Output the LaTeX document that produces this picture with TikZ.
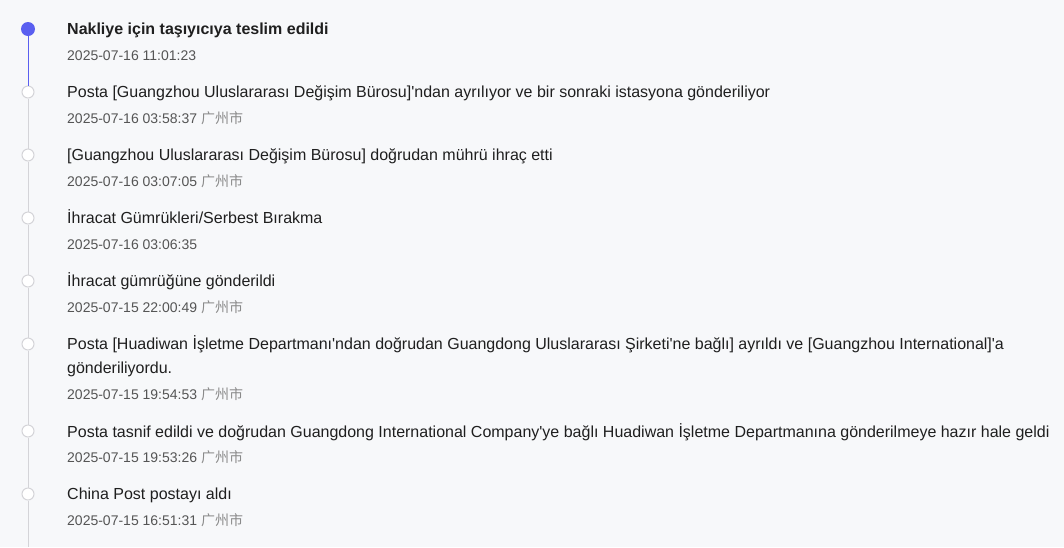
\documentclass[tikz,border=0pt]{standalone}
\usepackage{fontspec}
\setmainfont{Liberation Sans}[Ligatures=TeXOff]
\newfontfamily\cjk{Noto Sans CJK SC}
\definecolor{bgcol}{HTML}{F7F8FA}
\definecolor{linecol}{HTML}{D4D4D8}
\definecolor{activecol}{HTML}{5A5FF0}
\definecolor{titlecol}{HTML}{1F1F1F}
\definecolor{datecol}{HTML}{555555}
\definecolor{citycol}{HTML}{8A8A8A}
\tikzset{
  evtitle/.style={anchor=base west, inner sep=0pt, text=titlecol, font=\fontsize{16}{24}\selectfont},
  evdate/.style={anchor=base west, inner sep=0pt, text=datecol, font=\fontsize{14}{16}\selectfont},
  dotdone/.style={circle, fill=white, draw=linecol, line width=1pt, minimum size=12pt, inner sep=0pt},
  dotnow/.style={circle, fill=activecol, minimum size=14pt, inner sep=0pt}
}
\newcommand{\city}{ {\color{citycol}\cjk 广州市}}
\begin{document}
\begin{tikzpicture}[x=1pt,y=-1pt]
    \fill[bgcol] (0,0) rectangle (1064,547);
    \useasboundingbox (0,0) rectangle (1064,547);
    % dots
    \node[dotnow] (d1) at (28,29) {};
    \node[dotdone] (d2) at (28,92) {};
    \node[dotdone] (d3) at (28,155) {};
    \node[dotdone] (d4) at (28,218) {};
    \node[dotdone] (d5) at (28,281) {};
    \node[dotdone] (d6) at (28,344) {};
    \node[dotdone] (d7) at (28,431) {};
    \node[dotdone] (d8) at (28,494) {};
    \coordinate (end) at (28,547);
    % line
    \draw[activecol, line width=1pt] (d1) -- (d2);
    \draw[linecol, line width=1pt] (d2) -- (d3);
    \draw[linecol, line width=1pt] (d3) -- (d4);
    \draw[linecol, line width=1pt] (d4) -- (d5);
    \draw[linecol, line width=1pt] (d5) -- (d6);
    \draw[linecol, line width=1pt] (d6) -- (d7);
    \draw[linecol, line width=1pt] (d7) -- (d8);
    \draw[linecol, line width=1pt] (d8) -- (end);
    % texts
    \node[evtitle, font=\fontsize{16}{24}\selectfont\bfseries] (t1) at (67,34) {Nakliye için taşıyıcıya teslim edildi};
    \node[evdate] (s1) at (67,60) {2025-07-16 11:01:23};
    \node[evtitle] (t2) at (67,97) {Posta [Guangzhou Uluslararası Değişim Bürosu]'ndan ayrılıyor ve bir sonraki istasyona gönderiliyor};
    \node[evdate] (s2) at (67,123) {2025-07-16 03:58:37\city};
    \node[evtitle] (t3) at (67,160) {[Guangzhou Uluslararası Değişim Bürosu] doğrudan mührü ihraç etti};
    \node[evdate] (s3) at (67,186) {2025-07-16 03:07:05\city};
    \node[evtitle] (t4) at (67,223) {İhracat Gümrükleri/Serbest Bırakma};
    \node[evdate] (s4) at (67,249) {2025-07-16 03:06:35};
    \node[evtitle] (t5) at (67,286) {İhracat gümrüğüne gönderildi};
    \node[evdate] (s5) at (67,312) {2025-07-15 22:00:49\city};
    \node[evtitle] (t6) at (67,349) {Posta [Huadiwan İşletme Departmanı'ndan doğrudan Guangdong Uluslararası Şirketi'ne bağlı] ayrıldı ve [Guangzhou International]'a};
    \node[evtitle] (t6b) at (67,373) {gönderiliyordu.};
    \node[evdate] (s6) at (67,399) {2025-07-15 19:54:53\city};
    \node[evtitle] (t7) at (67,437) {Posta tasnif edildi ve doğrudan Guangdong International Company'ye bağlı Huadiwan İşletme Departmanına gönderilmeye hazır hale geldi};
    \node[evdate] (s7) at (67,462) {2025-07-15 19:53:26\city};
    \node[evtitle] (t8) at (67,499) {China Post postayı aldı};
    \node[evdate] (s8) at (67,525) {2025-07-15 16:51:31\city};
\end{tikzpicture}
\end{document}
